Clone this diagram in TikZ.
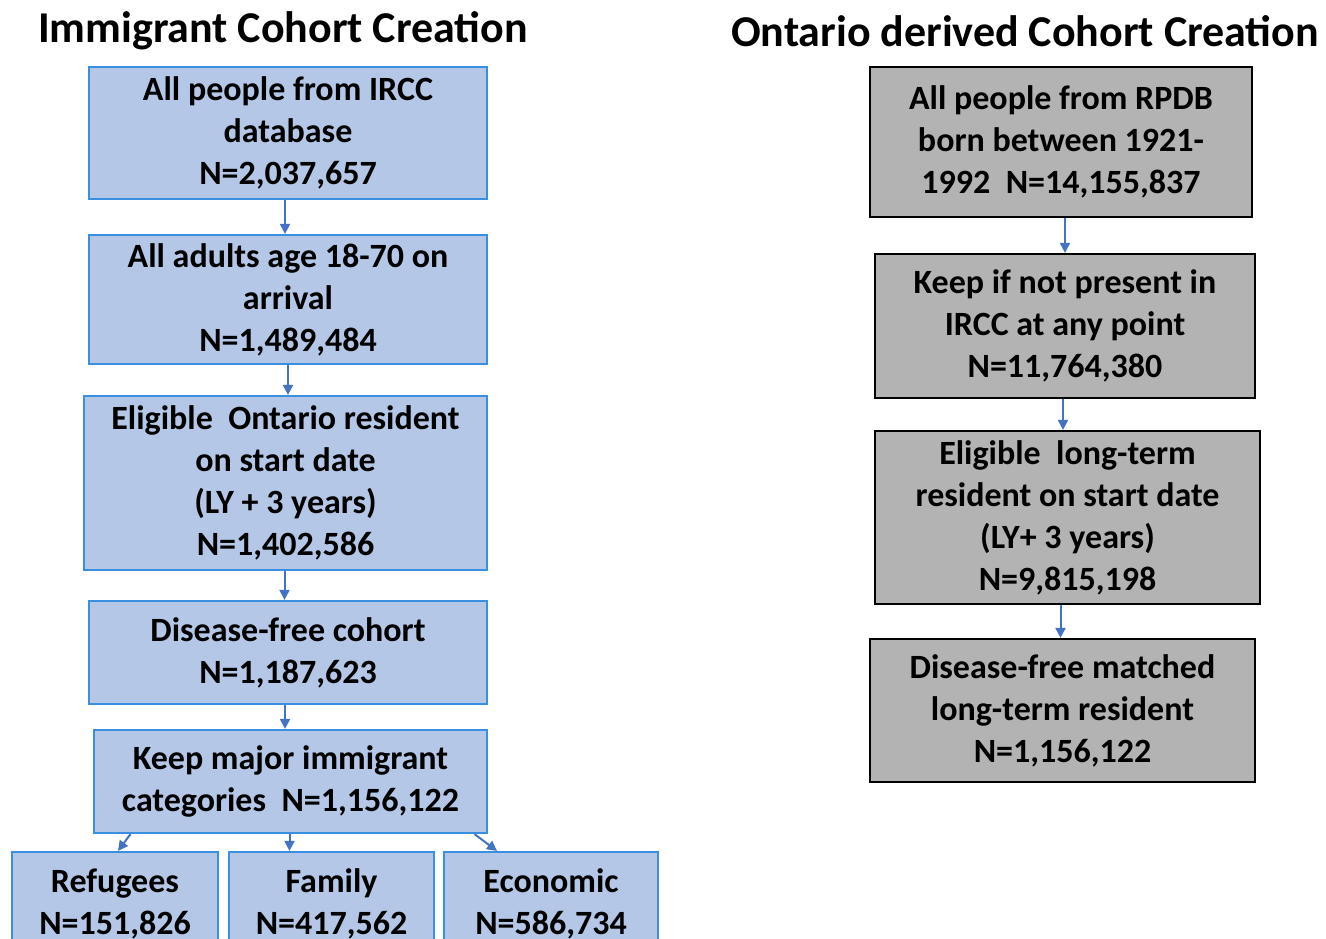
\documentclass[tikz,border=0pt]{standalone}
\usepackage{fontspec}
\setmainfont{Carlito}
\usetikzlibrary{arrows.meta,calc}
\definecolor{bfill}{HTML}{B4C7E7}
\definecolor{bdraw}{HTML}{3A8FE0}
\definecolor{gfill}{HTML}{B3B3B3}
\definecolor{arrc}{HTML}{4472C4}
\tikzset{
  bbox/.style={draw=bdraw, fill=bfill, line width=2.2pt, align=center, inner sep=0pt,
    font=\fontsize{34}{42}\selectfont\bfseries},
  gbox/.style={draw=black, fill=gfill, line width=2.2pt, align=center, inner sep=0pt,
    font=\fontsize{34}{42}\selectfont\bfseries},
  ttl/.style={font=\fontsize{44}{50}\selectfont\bfseries, inner sep=0pt},
  arr/.style={draw=arrc, line width=2pt, -{Triangle[length=10pt,width=10pt]}},
}
\begin{document}
\begin{tikzpicture}[x=1pt,y=-1pt]
\useasboundingbox (0,0) rectangle (1326,938);
\clip (0,0) rectangle (1326,938);
\fill[white] (0,0) rectangle (1326,938);
% titles
\node[ttl] (t1) at (283,31) {Immigrant Cohort Creation};
\node[ttl] (t2) at (1025,31) {Ontario derived Cohort Creation};
% left column
\node[bbox, minimum width=398pt, minimum height=132pt] (l1) at (288,133)
  {All people from IRCC\\database\\N=2,037,657};
\node[bbox, minimum width=398pt, minimum height=129pt] (l2) at (288,299.5)
  {All adults age 18-70 on\\arrival\\N=1,489,484};
\node[bbox, minimum width=403pt, minimum height=174pt] (l3) at (285.5,483)
  {Eligible\ \ Ontario resident\\on start date\\(LY + 3 years)\\N=1,402,586};
\node[bbox, minimum width=398pt, minimum height=103pt] (l4) at (288,652.5)
  {Disease-free cohort\\N=1,187,623};
\node[bbox, minimum width=393pt, minimum height=103pt] (l5) at (290.5,781.5)
  {Keep major immigrant\\categories\ \ N=1,156,122};
\node[bbox, minimum width=206pt, minimum height=104pt] (r1) at (115,904)
  {Refugees\\N=151,826};
\node[bbox, minimum width=205pt, minimum height=104pt] (r2) at (331.5,904)
  {Family\\N=417,562};
\node[bbox, minimum width=214pt, minimum height=104pt] (r3) at (551,904)
  {Economic\\N=586,734};
% right column
\node[gbox, minimum width=382pt, minimum height=150pt] (g1) at (1061,142)
  {All people from RPDB\\born between 1921-\\1992\ \ N=14,155,837};
\node[gbox, minimum width=380pt, minimum height=144pt] (g2) at (1065,326)
  {Keep if not present in\\IRCC at any point\\N=11,764,380};
\node[gbox, minimum width=385pt, minimum height=173pt] (g3) at (1067.5,517.5)
  {Eligible\ \ long-term\\resident on start date\\(LY+ 3 years)\\N=9,815,198};
\node[gbox, minimum width=385pt, minimum height=143pt] (g4) at (1062.5,710.5)
  {Disease-free matched\\long-term resident\\N=1,156,122};
% arrows left
\draw[arr] ([xshift=-3pt]l1.south) -- ([xshift=-3pt]l1.south |- l2.north);
\draw[arr] (l2.south) -- (l2.south |- l3.north);
\draw[arr] ([xshift=-1pt]l3.south) -- ([xshift=-1pt]l3.south |- l4.north);
\draw[arr] ([xshift=-3pt]l4.south) -- ([xshift=-3pt]l4.south |- l5.north);
\draw[arr] ([xshift=-160pt]l5.south) -- ([xshift=3pt]r1.north);
\draw[arr] ([xshift=-1pt]l5.south) -- ([xshift=-1pt]l5.south |- r2.north);
\draw[arr] ([xshift=184pt]l5.south) -- ([xshift=-54pt]r3.north);
% arrows right
\draw[arr] ([xshift=4pt]g1.south) -- ([xshift=4pt]g1.south |- g2.north);
\draw[arr] ([xshift=-2pt]g2.south) -- ([xshift=-2pt]g2.south |- g3.north);
\draw[arr] ([xshift=-7pt]g3.south) -- ([xshift=-7pt]g3.south |- g4.north);
\end{tikzpicture}
\end{document}
